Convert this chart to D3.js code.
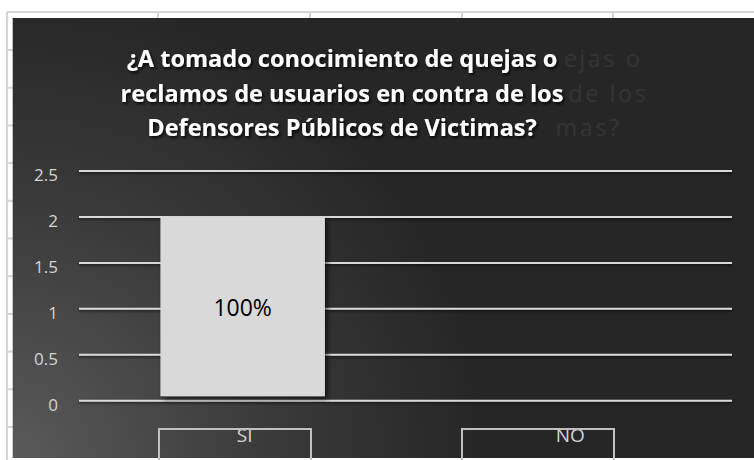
<!DOCTYPE html>
<html>
<head>
<meta charset="utf-8">
<script src="https://cdn.jsdelivr.net/npm/d3@7"></script>
<style>
  body { margin: 0; background: #fff; }
  svg { display: block; font-family: "Open Sans", "Noto Sans", sans-serif; }
</style>
</head>
<body>
<div id="chart"></div>
<script>
var categories = ["SI", "NO"],
    values = [2, 0],
    valueLabels = ["100%", ""],
    yTicks = [0, 0.5, 1, 1.5, 2, 2.5],
    titleLines = [
      "¿A tomado conocimiento de quejas o",
      "reclamos de usuarios en contra de los",
      "Defensores Públicos de Victimas?"
    ],
    // tails of the faint doubled title that show to the right of the real one
    ghostTails = ["ejas o", "de los", "mas?"];

var W = 754, H = 460,
    panel = { x: 12.7, y: 18 },
    plot = { l: 79, r: 732, t: 171, b: 400.7 };

var svg = d3.select("#chart").append("svg")
    .attr("width", W)
    .attr("height", H);

var defs = svg.append("defs");

// background of the chart panel, lighter toward the bottom-left corner
var grad = defs.append("radialGradient")
    .attr("id", "bg")
    .attr("gradientUnits", "userSpaceOnUse")
    .attr("cx", 12).attr("cy", 460).attr("r", 470);
grad.append("stop").attr("offset", 0).attr("stop-color", "#5a5a5a");
grad.append("stop").attr("offset", 0.55).attr("stop-color", "#3a3a3a");
grad.append("stop").attr("offset", 1).attr("stop-color", "#262626");

function shadow(id, dx, dy, sd, op) {
  defs.append("filter")
      .attr("id", id)
      .attr("x", "-20%").attr("y", "-20%")
      .attr("width", "140%").attr("height", "140%")
    .append("feDropShadow")
      .attr("dx", dx).attr("dy", dy)
      .attr("stdDeviation", sd)
      .attr("flood-color", "#000")
      .attr("flood-opacity", op);
}
shadow("titleShadow", 1.5, 2, 1.5, 0.85);
shadow("barShadow", 3, 3, 2.5, 0.6);
shadow("lineShadow", 0, 1.5, 0.8, 0.6);

// the category labels are cut off by the top edge of their boxes
defs.append("clipPath").attr("id", "catClip")
  .append("rect")
    .attr("x", 0).attr("y", 430)
    .attr("width", W).attr("height", 40);

// spreadsheet grid behind the chart
var sheet = svg.append("g")
    .attr("stroke", "#d4d4d4")
    .attr("stroke-width", 2);
sheet.append("line").attr("x1", 7).attr("x2", W).attr("y1", 12).attr("y2", 12);
sheet.append("line").attr("x1", 7).attr("x2", 7).attr("y1", 12).attr("y2", H);
[158, 310, 462, 613].forEach(function(x) {
  sheet.append("line").attr("x1", x).attr("x2", x).attr("y1", 12).attr("y2", 19);
});
d3.range(50, H, 37.7).forEach(function(y) {
  sheet.append("line").attr("x1", 7).attr("x2", 13).attr("y1", y).attr("y2", y);
});

svg.append("rect")
    .attr("x", panel.x).attr("y", panel.y)
    .attr("width", W - panel.x).attr("height", 440)
    .attr("fill", "url(#bg)");

// scales
var x = d3.scaleBand()
    .domain(categories)
    .range([plot.l, plot.r])
    .paddingInner(0.495)
    .paddingOuter(0.25);
var boxScale = d3.scaleBand()
    .domain(categories)
    .range([83.5, 689.5]);
var y = d3.scaleLinear()
    .domain([0, 2.5])
    .range([plot.b, plot.t]);

// title
var titleX = 342,
    titleY0 = 67,
    lineGap = 34.5,
    titleWidth = 431;

var title = svg.append("g")
    .attr("font-size", 21)
    .attr("font-weight", "bold")
    .attr("fill", "#fff")
    .attr("text-anchor", "middle")
    .attr("filter", "url(#titleShadow)");
var ghost = svg.append("g")
    .attr("fill", "#343434")
    .attr("letter-spacing", 2.5)
    .attr("text-anchor", "end");

var titleText = title.selectAll("text")
  .data(titleLines)
  .enter().append("text")
    .attr("x", titleX)
    .attr("y", function(d, i) { return titleY0 + i * lineGap; })
    .text(function(d) { return d; });

// fit the first line to the width it has in the picture
var size = 21 * titleWidth / titleText.node().getComputedTextLength();
title.attr("font-size", size);
ghost.attr("font-size", size);

titleText.each(function(d, i) {
  var len = this.getComputedTextLength();
  ghost.append("text")
      .attr("x", titleX + len / 2 + 85)
      .attr("y", titleY0 + i * lineGap)
      .text(ghostTails[i]);
});

// gridlines
var grid = svg.append("g")
    .attr("filter", "url(#lineShadow)");
grid.selectAll("line")
  .data(yTicks)
  .enter().append("line")
    .attr("x1", plot.l).attr("x2", plot.r)
    .attr("y1", function(d) { return y(d); })
    .attr("y2", function(d) { return y(d); })
    .attr("stroke", "#d9d9d9")
    .attr("stroke-width", 2);

// y axis labels
var axisY = d3.axisLeft(y)
    .tickValues(yTicks)
    .tickFormat(d3.format("~g"))
    .tickSize(0)
    .tickPadding(21);
svg.append("g")
    .attr("transform", "translate(" + plot.l + ",0)")
    .call(axisY)
    .call(function(g) { g.select(".domain").remove(); })
  .selectAll("text")
    .attr("fill", "#d4d4d4")
    .attr("font-size", 17)
    .attr("font-family", "Open Sans, sans-serif")
    .attr("dy", "0.55em");

// bars
var barData = categories.map(function(c, i) {
  return { cat: c, value: values[i], label: valueLabels[i] };
}).filter(function(d) { return d.value > 0; });

var bars = svg.selectAll(".bar")
  .data(barData)
  .enter().append("g")
    .attr("class", "bar");
bars.append("rect")
    .attr("x", function(d) { return x(d.cat); })
    .attr("y", function(d) { return y(d.value); })
    .attr("width", x.bandwidth())
    .attr("height", function(d) { return y(0) - 4.5 - y(d.value); })
    .attr("fill", "#d9d9d9")
    .attr("filter", "url(#barShadow)");
bars.append("text")
    .attr("x", function(d) { return x(d.cat) + x.bandwidth() / 2; })
    .attr("y", function(d) { return (y(d.value) + y(0)) / 2 + 7.5; })
    .attr("text-anchor", "middle")
    .attr("font-size", 23)
    .attr("fill", "#000")
    .text(function(d) { return d.label; });

// category labels in their boxes
var cats = svg.selectAll(".cat")
  .data(categories)
  .enter().append("g")
    .attr("class", "cat");
cats.append("text")
    .attr("x", function(d) { return x(d) + x.bandwidth() / 2 + 2; })
    .attr("y", 442)
    .attr("text-anchor", "middle")
    .attr("font-size", 19)
    .attr("fill", "#d4d4d4")
    .attr("clip-path", "url(#catClip)")
    .text(function(d) { return d; });
cats.append("path")
    .attr("d", function(d) {
      var cx = boxScale(d) + boxScale.bandwidth() / 2,
          x0 = cx - 76, x1 = cx + 76;
      return "M" + x0 + "," + (H + 2) + "V429H" + x1 + "V" + (H + 2);
    })
    .attr("fill", "none")
    .attr("stroke", "#c0c0c0")
    .attr("stroke-width", 2);
</script>
</body>
</html>
